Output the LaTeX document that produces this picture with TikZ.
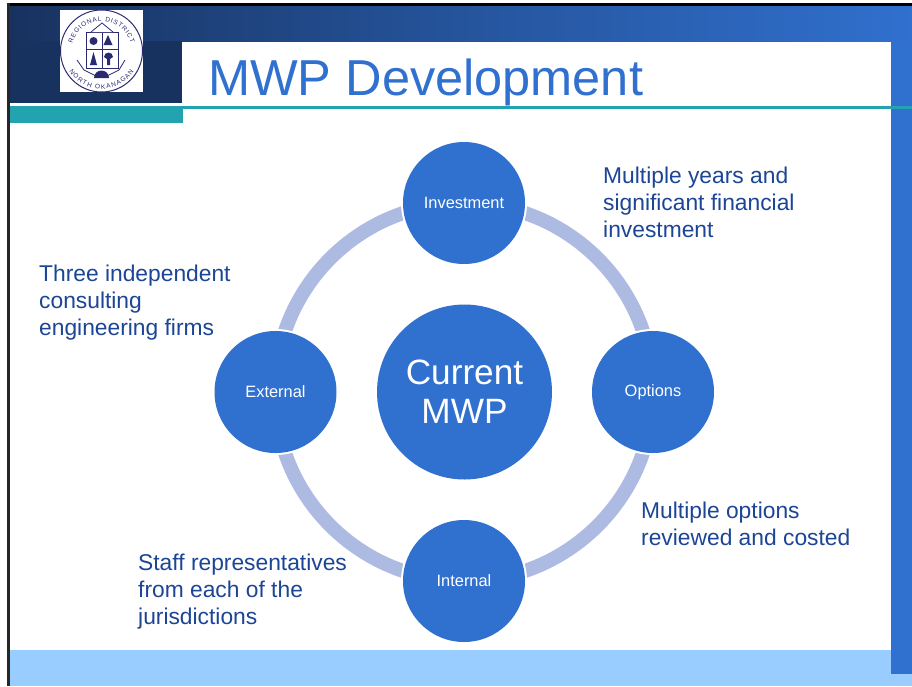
\documentclass[tikz,border=0pt]{standalone}
\usepackage{fontspec}
\setmainfont{Liberation Sans}
\usetikzlibrary{decorations.text}
\definecolor{mblue}{HTML}{3070CE}
\definecolor{dblue}{HTML}{18325F}
\definecolor{teal2}{HTML}{22A3AF}
\definecolor{lblue}{HTML}{99CCFF}
\definecolor{ring}{HTML}{ADBBE3}
\definecolor{txtblue}{HTML}{1C4596}
\definecolor{logoc}{HTML}{2A2A72}
\tikzset{
  px/.style={x=1pt,y=-1pt},
  hub/.style={circle,fill=mblue,text=white,minimum size=175pt,inner sep=0pt,align=center,font=\fontsize{35.2}{39}\selectfont},
  sat/.style={circle,fill=mblue,text=white,minimum size=122pt,inner sep=0pt,font=\fontsize{16.4}{19}\selectfont,preaction={draw=white,line width=4pt}},
  note/.style={anchor=north west,align=left,text=txtblue,inner sep=0pt,font=\fontsize{22.8}{27}\selectfont},
  logoline/.style={draw=logoc,line width=0.8pt},
}
\begin{document}
\begin{tikzpicture}[px]
\useasboundingbox (0,0) rectangle (912,686);
\fill[white] (0,0) rectangle (912,686);
% frame
\fill[black] (7,3) rectangle (912,6);
\fill[black!85] (7,3) rectangle (9.5,686);
% header bands
\shade[left color=dblue,right color=mblue,shading angle=90,middle color=dblue!45!mblue] (9.5,6) rectangle (912,41);
\fill[dblue] (9.5,41) rectangle (182,103);
\fill[mblue] (891,41) rectangle (912,674);
\fill[teal2] (9.5,106) rectangle (183,123);
\fill[teal2] (183,106) rectangle (912,109);
\fill[lblue] (9.5,650) rectangle (891,686);
\fill[lblue] (891,674) rectangle (912,686);
% logo
\fill[white] (60,10) rectangle (143,92);
\coordinate (lc) at (101.5,51);
\draw[logoc,line width=1pt] (lc) circle[radius=41pt];
\path[decorate,decoration={text along path,text align={fit to path},text={|\fontsize{6.5}{8}\selectfont\color{logoc}|REGIONAL DISTRICT}}]
  (lc) ++(165:30pt) arc[start angle=165,end angle=15,radius=30pt];
\path[decorate,decoration={text along path,text align={fit to path},text={|\fontsize{6.5}{8}\selectfont\color{logoc}|NORTH OKANAGAN}}]
  (lc) ++(212:38pt) arc[start angle=212,end angle=328,radius=38pt];
\draw[logoline,fill=white] (86,32) rectangle (118,68);
\draw[logoline] (102,32) -- (102,68) (86,49) -- (118,49);
\draw[logoline,fill=white] (91,32) -- (102,23) -- (113,32);
\fill[logoc] (93.5,41) circle[radius=4pt];
\fill[logoc] (108,35) -- (112.5,45) -- (103.5,45) -- cycle;
\fill[logoc] (93.5,52) -- (97,65) -- (90,65) -- cycle;
\fill[logoc] (104,57) arc[start angle=180,end angle=0,radius=4.5pt] -- (110,59) -- (110,65) -- (107,65) -- (107,59) -- cycle;
\draw[logoline] (77,60) -- (84,70) -- (96,76);
\draw[logoline] (125,60) -- (119,70) -- (107,76);
\fill[logoc] (94,78) arc[start angle=180,end angle=0,radius=7.5pt] -- cycle;
% ring
\coordinate (ctr) at (464,392);
\draw[ring,line width=14pt] (ctr) circle[radius=189pt];
% nodes
\node[hub] (cur) at (464.5,392) {Current\\MWP};
\node[sat] (inv) at (464,203) {Investment};
\node[sat] (opt) at (653,392) {Options};
\node[sat] (int) at (464,581) {Internal};
\node[sat] (ext) at (275.5,392) {External};
\node[note] (n1) at (603,167) {Multiple years and\\significant financial\\investment};
\node[note] (n2) at (39,265) {Three independent\\consulting\\engineering firms};
\node[note] (n3) at (641,502) {Multiple options\\reviewed and costed};
\node[note] (n4) at (138,554) {Staff representatives\\from each of the\\jurisdictions};
\node[anchor=base west,inner sep=0pt,text=mblue,font=\fontsize{50.5}{55}\selectfont] (title) at (208,95) {MWP Development};
\end{tikzpicture}
\end{document}
